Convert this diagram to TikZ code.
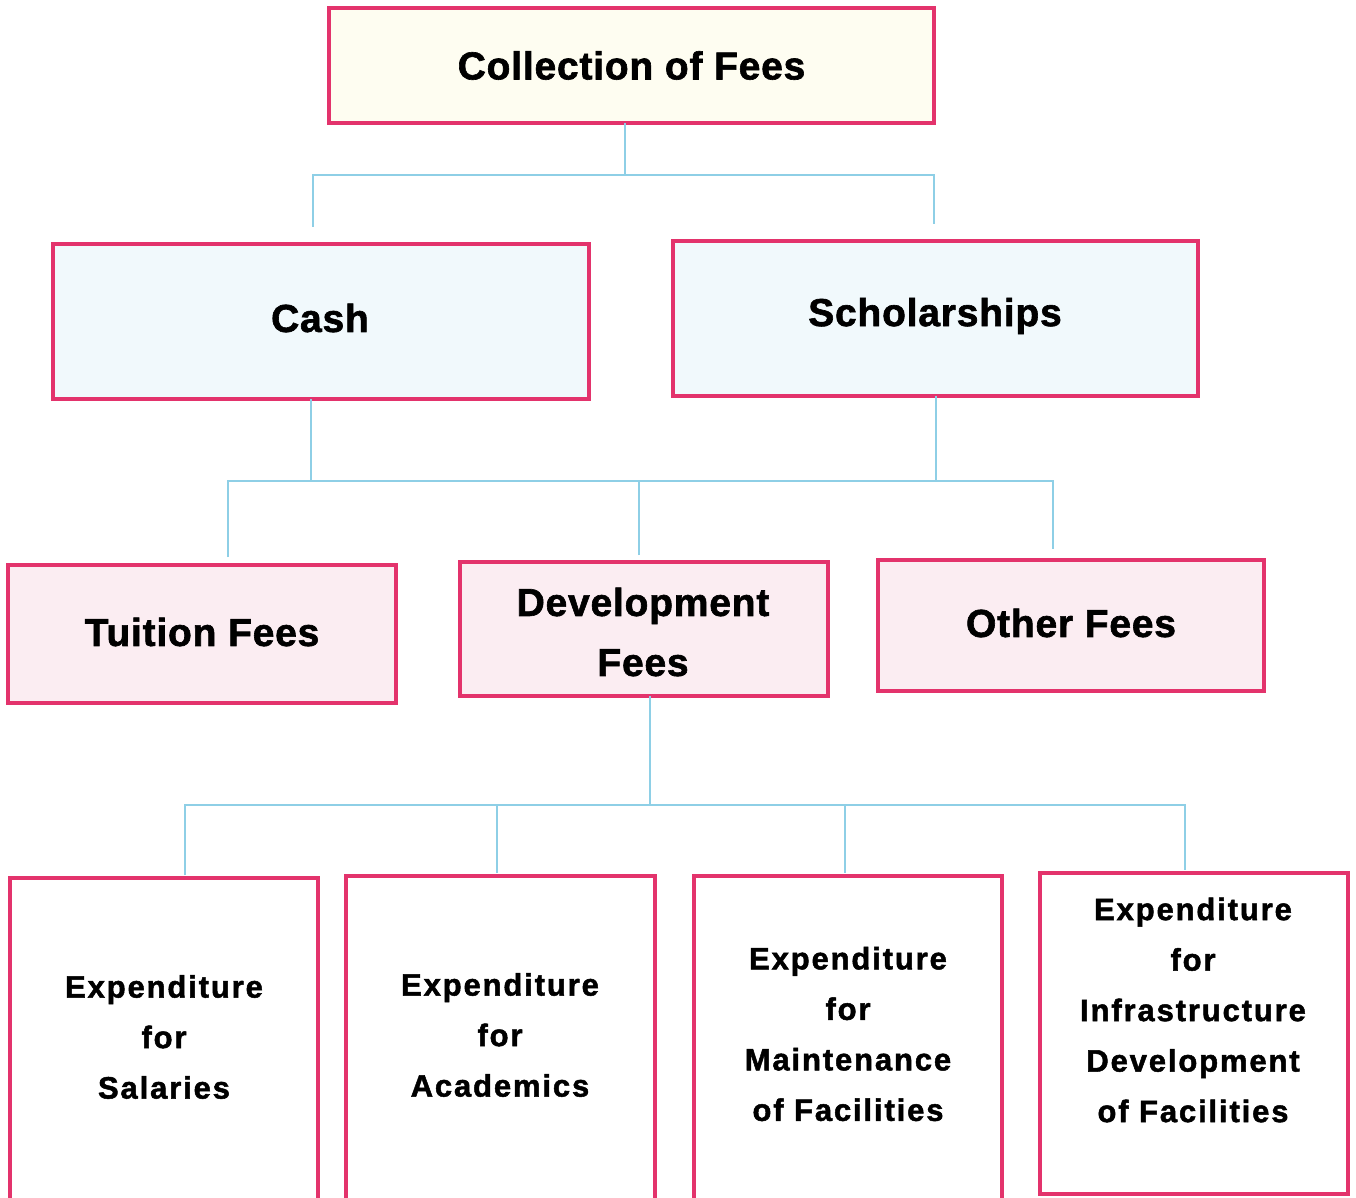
\documentclass[tikz,border=0pt]{standalone}
\usepackage{fontspec}
\newfontfamily\fa{Liberation Sans}[LetterSpace=2,BoldFeatures={FakeBold=1.6}]
\newfontfamily\fb{Liberation Sans}[LetterSpace=6,BoldFeatures={FakeBold=1.6}]
\definecolor{bord}{HTML}{E3336C}
\definecolor{conn}{HTML}{8ECFE6}
\definecolor{fillY}{HTML}{FEFDF1}
\definecolor{fillC}{HTML}{F1F9FC}
\definecolor{fillP}{HTML}{FBEDF2}
\begin{document}
\begin{tikzpicture}[x=1pt,y=-1pt,
  box/.style={draw=bord,line width=3.5pt,rectangle,inner sep=0pt,outer sep=0pt},
  bigtxt/.style={font={\fa\bfseries\fontsize{39}{60}\selectfont},align=center},
  smalltxt/.style={font={\fb\bfseries\fontsize{31}{50.5}\selectfont},align=center},
  link/.style={draw=conn,line width=1.4pt}]
\useasboundingbox[fill=white] (0,0) rectangle (1356,1198);
% boxes
\node[box,fill=fillY,minimum width=605pt,minimum height=115pt] (top) at (631.5,65.5) {};
\node[box,fill=fillC,minimum width=536pt,minimum height=155pt] (cash) at (321,321.5) {};
\node[box,fill=fillC,minimum width=525pt,minimum height=155pt] (schol) at (935.5,318.5) {};
\node[box,fill=fillP,minimum width=388pt,minimum height=138pt] (tuit) at (202,634) {};
\node[box,fill=fillP,minimum width=368pt,minimum height=134pt] (dev) at (644,629) {};
\node[box,fill=fillP,minimum width=386pt,minimum height=131pt] (oth) at (1071,625.5) {};
\node[box,fill=white,minimum width=308pt,minimum height=325pt] (sal) at (164,1040.5) {};
\node[box,fill=white,minimum width=309pt,minimum height=327pt] (aca) at (500.5,1039.5) {};
\node[box,fill=white,minimum width=308pt,minimum height=327pt] (mai) at (848,1039.5) {};
\node[box,fill=white,minimum width=308pt,minimum height=321pt] (inf) at (1194,1033.5) {};
% texts
\node[bigtxt] (ttop) at (top.center) {Collection of Fees};
\node[bigtxt] (tcash) at (320,318) {Cash};
\node[bigtxt] (tschol) at (935,316) {Scholarships};
\node[bigtxt] (ttuit) at (202,632) {Tuition Fees};
\node[bigtxt] (tdev) at (643,632) {Development\\Fees};
\node[bigtxt] (toth) at (1071,623) {Other Fees};
\node[smalltxt] (tsal) at (164,1037) {Expenditure\\for\\Salaries};
\node[smalltxt] (taca) at (500,1035) {Expenditure\\for\\Academics};
\node[smalltxt] (tmai) at (848,1034) {Expenditure\\for\\Maintenance\\of Facilities};
\node[smalltxt] (tinf) at (1193,1010) {Expenditure\\for\\Infrastructure\\Development\\of Facilities};
% connector coordinates
\coordinate (j1) at (625,175);
\coordinate (e1a) at (313,227);
\coordinate (e1b) at (934,224);
\coordinate (j2a) at (311,481);
\coordinate (j2b) at (936,481);
\coordinate (e2a) at (228,557);
\coordinate (e2b) at (639,555);
\coordinate (e2c) at (1053,549);
\coordinate (j3) at (650,805);
\coordinate (e3a) at (185,875);
\coordinate (e3b) at (497,873);
\coordinate (e3c) at (845,873);
\coordinate (e3d) at (1185,870);
% connectors
\draw[link] (top.south -| j1) -- (j1);
\draw[link] (e1a) |- (j1) -| (e1b);
\draw[link] (cash.south -| j2a) -- (j2a);
\draw[link] (schol.south -| j2b) -- (j2b);
\draw[link] (e2a) |- (j2a) -- (j2b) -| (e2c);
\draw[link] (e2b) -- (e2b |- j2a);
\draw[link] (dev.south -| j3) -- (j3);
\draw[link] (e3a) |- (j3) -| (e3d);
\draw[link] (e3b) -- (e3b |- j3);
\draw[link] (e3c) -- (e3c |- j3);
\end{tikzpicture}
\end{document}
